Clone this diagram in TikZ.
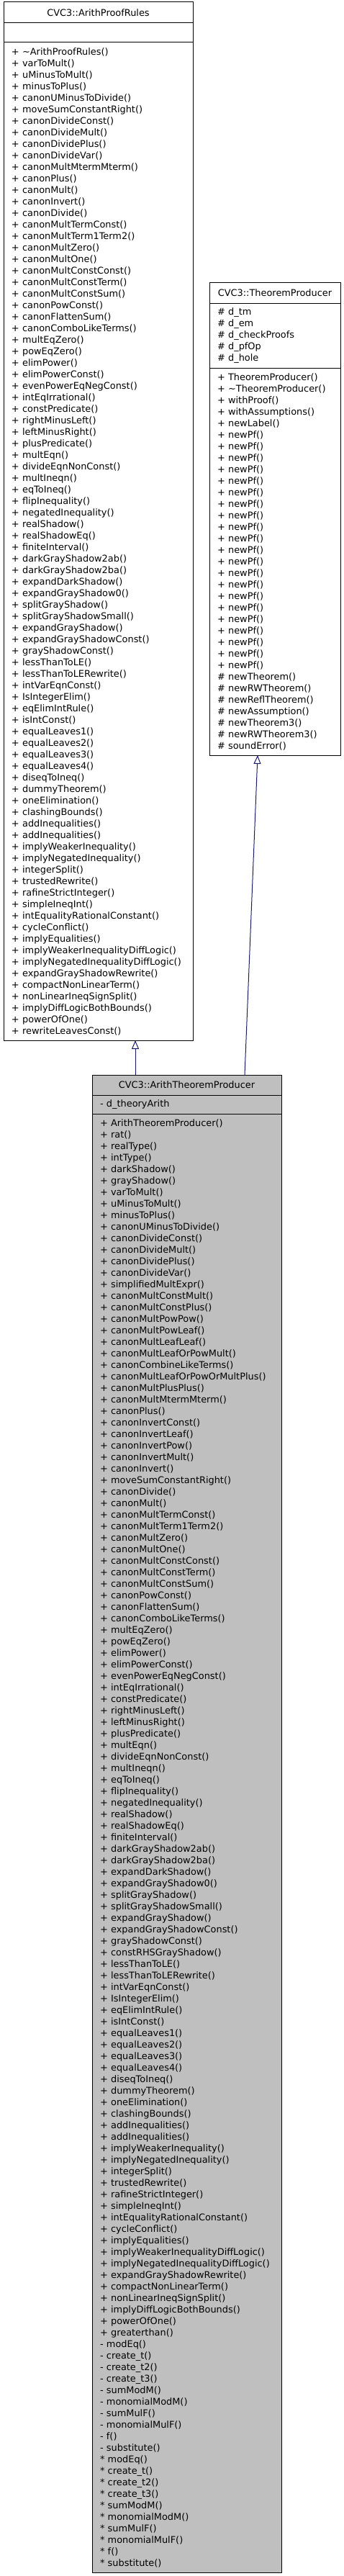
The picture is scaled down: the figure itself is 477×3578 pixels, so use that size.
\documentclass[tikz,border=0pt]{standalone}
\usepackage{fontspec}
\setmainfont{DejaVu Sans}
\usetikzlibrary{positioning,arrows.meta}
\definecolor{edgeblue}{HTML}{191970}
\definecolor{boxgray}{HTML}{BFBFBF}
\newcommand{\umlfont}{\fontsize{12.9}{16}\selectfont}

\begin{document}
\begin{tikzpicture}[x=1pt, y=1pt, line width=1pt, node distance=0pt,
  part/.style={draw, outer sep=0pt, inner xsep=11pt, inner ysep=3pt, align=left, font=\umlfont},
  wide/.style={text width=241pt},
  narrow/.style={text width=160pt},
  inherit/.style={draw=edgeblue, -{Triangle[open, length=12pt, width=10pt]}}]

  \useasboundingbox (0,0) rectangle (477,-3578);

  % Base class ArithProofRules
  \node[part, wide, align=center, minimum height=29pt, anchor=north west] (aprname) at (5,-3) {CVC3::ArithProofRules};
  \node[part, wide, minimum height=27pt, below=of aprname] (aprattr) {};
  \node[part, wide, minimum height=1386pt, below=of aprattr] (aprops) {%
+ \textasciitilde{}ArithProofRules()\\
+ varToMult()\\
+ uMinusToMult()\\
+ minusToPlus()\\
+ canonUMinusToDivide()\\
+ moveSumConstantRight()\\
+ canonDivideConst()\\
+ canonDivideMult()\\
+ canonDividePlus()\\
+ canonDivideVar()\\
+ canonMultMtermMterm()\\
+ canonPlus()\\
+ canonMult()\\
+ canonInvert()\\
+ canonDivide()\\
+ canonMultTermConst()\\
+ canonMultTerm1Term2()\\
+ canonMultZero()\\
+ canonMultOne()\\
+ canonMultConstConst()\\
+ canonMultConstTerm()\\
+ canonMultConstSum()\\
+ canonPowConst()\\
+ canonFlattenSum()\\
+ canonComboLikeTerms()\\
+ multEqZero()\\
+ powEqZero()\\
+ elimPower()\\
+ elimPowerConst()\\
+ evenPowerEqNegConst()\\
+ intEqIrrational()\\
+ constPredicate()\\
+ rightMinusLeft()\\
+ leftMinusRight()\\
+ plusPredicate()\\
+ multEqn()\\
+ divideEqnNonConst()\\
+ multIneqn()\\
+ eqToIneq()\\
+ flipInequality()\\
+ negatedInequality()\\
+ realShadow()\\
+ realShadowEq()\\
+ finiteInterval()\\
+ darkGrayShadow2ab()\\
+ darkGrayShadow2ba()\\
+ expandDarkShadow()\\
+ expandGrayShadow0()\\
+ splitGrayShadow()\\
+ splitGrayShadowSmall()\\
+ expandGrayShadow()\\
+ expandGrayShadowConst()\\
+ grayShadowConst()\\
+ lessThanToLE()\\
+ lessThanToLERewrite()\\
+ intVarEqnConst()\\
+ IsIntegerElim()\\
+ eqElimIntRule()\\
+ isIntConst()\\
+ equalLeaves1()\\
+ equalLeaves2()\\
+ equalLeaves3()\\
+ equalLeaves4()\\
+ diseqToIneq()\\
+ dummyTheorem()\\
+ oneElimination()\\
+ clashingBounds()\\
+ addInequalities()\\
+ addInequalities()\\
+ implyWeakerInequality()\\
+ implyNegatedInequality()\\
+ integerSplit()\\
+ trustedRewrite()\\
+ rafineStrictInteger()\\
+ simpleIneqInt()\\
+ intEqualityRationalConstant()\\
+ cycleConflict()\\
+ implyEqualities()\\
+ implyWeakerInequalityDiffLogic()\\
+ implyNegatedInequalityDiffLogic()\\
+ expandGrayShadowRewrite()\\
+ compactNonLinearTerm()\\
+ nonLinearIneqSignSplit()\\
+ implyDiffLogicBothBounds()\\
+ powerOfOne()\\
+ rewriteLeavesConst()};

  % Base class TheoremProducer (built upwards from its bottom)
  \node[part, narrow, minimum height=538pt, anchor=south west] (tpops) at (291,-1049) {%
+ TheoremProducer()\\
+ \textasciitilde{}TheoremProducer()\\
+ withProof()\\
+ withAssumptions()\\
+ newLabel()\\
+ newPf()\\
+ newPf()\\
+ newPf()\\
+ newPf()\\
+ newPf()\\
+ newPf()\\
+ newPf()\\
+ newPf()\\
+ newPf()\\
+ newPf()\\
+ newPf()\\
+ newPf()\\
+ newPf()\\
+ newPf()\\
+ newPf()\\
+ newPf()\\
+ newPf()\\
+ newPf()\\
+ newPf()\\
+ newPf()\\
+ newPf()\\
\# newTheorem()\\
\# newRWTheorem()\\
\# newReflTheorem()\\
\# newAssumption()\\
\# newTheorem3()\\
\# newRWTheorem3()\\
\# soundError()};
  \node[part, narrow, minimum height=90pt, above=of tpops] (tpattr) {%
\# d\_tm\\
\# d\_em\\
\# d\_checkProofs\\
\# d\_pfOp\\
\# d\_hole};
  \node[part, narrow, align=center, minimum height=29pt, above=of tpattr] (tpname) {CVC3::TheoremProducer};

  % Derived class ArithTheoremProducer
  \node[part, wide, fill=boxgray, align=center, minimum height=28pt, anchor=north west] (atpname) at (128,-1493) {CVC3::ArithTheoremProducer};
  \node[part, wide, fill=boxgray, minimum height=26pt, below=of atpname] (atpattr) {- d\_theoryArith};
  \node[part, wide, fill=boxgray, minimum height=2026pt, below=of atpattr] (atpops) {%
+ ArithTheoremProducer()\\
+ rat()\\
+ realType()\\
+ intType()\\
+ darkShadow()\\
+ grayShadow()\\
+ varToMult()\\
+ uMinusToMult()\\
+ minusToPlus()\\
+ canonUMinusToDivide()\\
+ canonDivideConst()\\
+ canonDivideMult()\\
+ canonDividePlus()\\
+ canonDivideVar()\\
+ simplifiedMultExpr()\\
+ canonMultConstMult()\\
+ canonMultConstPlus()\\
+ canonMultPowPow()\\
+ canonMultPowLeaf()\\
+ canonMultLeafLeaf()\\
+ canonMultLeafOrPowMult()\\
+ canonCombineLikeTerms()\\
+ canonMultLeafOrPowOrMultPlus()\\
+ canonMultPlusPlus()\\
+ canonMultMtermMterm()\\
+ canonPlus()\\
+ canonInvertConst()\\
+ canonInvertLeaf()\\
+ canonInvertPow()\\
+ canonInvertMult()\\
+ canonInvert()\\
+ moveSumConstantRight()\\
+ canonDivide()\\
+ canonMult()\\
+ canonMultTermConst()\\
+ canonMultTerm1Term2()\\
+ canonMultZero()\\
+ canonMultOne()\\
+ canonMultConstConst()\\
+ canonMultConstTerm()\\
+ canonMultConstSum()\\
+ canonPowConst()\\
+ canonFlattenSum()\\
+ canonComboLikeTerms()\\
+ multEqZero()\\
+ powEqZero()\\
+ elimPower()\\
+ elimPowerConst()\\
+ evenPowerEqNegConst()\\
+ intEqIrrational()\\
+ constPredicate()\\
+ rightMinusLeft()\\
+ leftMinusRight()\\
+ plusPredicate()\\
+ multEqn()\\
+ divideEqnNonConst()\\
+ multIneqn()\\
+ eqToIneq()\\
+ flipInequality()\\
+ negatedInequality()\\
+ realShadow()\\
+ realShadowEq()\\
+ finiteInterval()\\
+ darkGrayShadow2ab()\\
+ darkGrayShadow2ba()\\
+ expandDarkShadow()\\
+ expandGrayShadow0()\\
+ splitGrayShadow()\\
+ splitGrayShadowSmall()\\
+ expandGrayShadow()\\
+ expandGrayShadowConst()\\
+ grayShadowConst()\\
+ constRHSGrayShadow()\\
+ lessThanToLE()\\
+ lessThanToLERewrite()\\
+ intVarEqnConst()\\
+ IsIntegerElim()\\
+ eqElimIntRule()\\
+ isIntConst()\\
+ equalLeaves1()\\
+ equalLeaves2()\\
+ equalLeaves3()\\
+ equalLeaves4()\\
+ diseqToIneq()\\
+ dummyTheorem()\\
+ oneElimination()\\
+ clashingBounds()\\
+ addInequalities()\\
+ addInequalities()\\
+ implyWeakerInequality()\\
+ implyNegatedInequality()\\
+ integerSplit()\\
+ trustedRewrite()\\
+ rafineStrictInteger()\\
+ simpleIneqInt()\\
+ intEqualityRationalConstant()\\
+ cycleConflict()\\
+ implyEqualities()\\
+ implyWeakerInequalityDiffLogic()\\
+ implyNegatedInequalityDiffLogic()\\
+ expandGrayShadowRewrite()\\
+ compactNonLinearTerm()\\
+ nonLinearIneqSignSplit()\\
+ implyDiffLogicBothBounds()\\
+ powerOfOne()\\
+ greaterthan()\\
- modEq()\\
- create\_t()\\
- create\_t2()\\
- create\_t3()\\
- sumModM()\\
- monomialModM()\\
- sumMulF()\\
- monomialMulF()\\
- f()\\
- substitute()\\
{*} modEq()\\
{*} create\_t()\\
{*} create\_t2()\\
{*} create\_t3()\\
{*} sumModM()\\
{*} monomialModM()\\
{*} sumMulF()\\
{*} monomialMulF()\\
{*} f()\\
{*} substitute()};

  % Inheritance arrows
  \draw[inherit] ([xshift=60pt]atpname.north west) -- ([xshift=60pt]atpname.north west |- aprops.south);
  \draw[inherit] ([xshift=212pt]atpname.north west) -- ([xshift=67pt]tpops.south west);

\end{tikzpicture}
\end{document}
